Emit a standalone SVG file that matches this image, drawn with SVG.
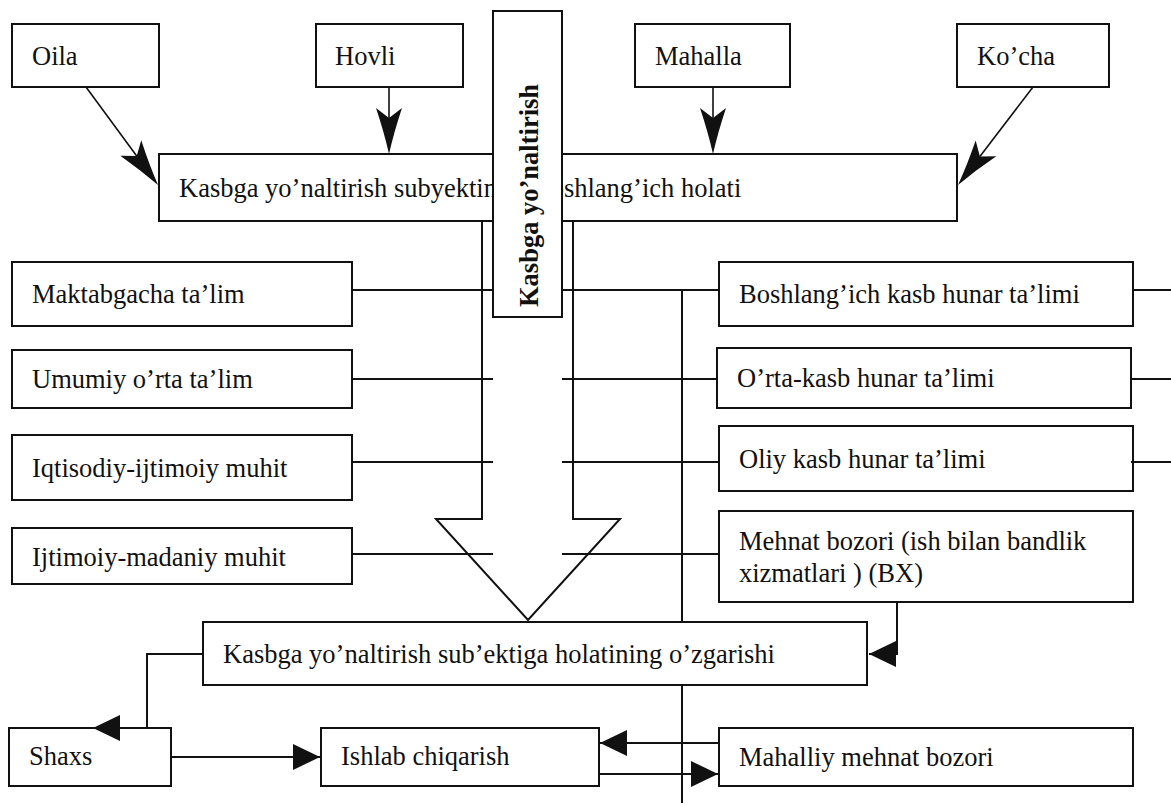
<svg xmlns="http://www.w3.org/2000/svg" width="1171" height="805" viewBox="0 0 1171 805">
  <style>
    .box { fill: #fff; stroke: #111; stroke-width: 2; }
    .lbl { font-family: "Liberation Serif", "Times New Roman", serif; font-size: 26.5px; fill: #111; }
    .vlbl { font-family: "Liberation Serif", "Times New Roman", serif; font-size: 26.5px; font-weight: bold; fill: #111; }
    .ln { fill: none; stroke: #111; stroke-width: 2; }
    .thin { fill: none; stroke: #111; stroke-width: 1.6; }
  </style>
  <defs>
    <!-- barbed head: notch sits on the line end, tip 36px further on -->
    <marker id="barb" viewBox="-50 -15 52 30" refX="-36" refY="0" markerWidth="52" markerHeight="30" markerUnits="userSpaceOnUse" orient="auto" overflow="visible">
      <path d="M0,0 Q-22,-5 -46,-13 L-36,0 L-46,13 Q-22,5 0,0Z" fill="#111"/>
    </marker>
    <!-- solid triangle head, tip on the line end -->
    <marker id="tri" viewBox="-28 -14 30 28" refX="0" refY="0" markerWidth="30" markerHeight="28" markerUnits="userSpaceOnUse" orient="auto" overflow="visible">
      <path d="M0,0 L-27,-13 L-27,13Z" fill="#111"/>
    </marker>
  </defs>

  <rect width="1171" height="805" fill="#fff"/>

  <!-- top sources -->
  <g id="oila"><rect class="box" x="12" y="24" width="147" height="63"/><text class="lbl" x="32" y="65">Oila</text></g>
  <g id="hovli"><rect class="box" x="316" y="24" width="147" height="63"/><text class="lbl" x="335" y="65">Hovli</text></g>
  <g id="mahalla"><rect class="box" x="635" y="24" width="155" height="63"/><text class="lbl" x="655" y="65">Mahalla</text></g>
  <g id="kocha"><rect class="box" x="957" y="24" width="152" height="63"/><text class="lbl" x="977" y="65">Ko’cha</text></g>

  <!-- initial state -->
  <g id="boshlangich-holat"><rect class="box" x="159" y="154" width="798" height="67"/><text class="lbl" x="179" y="197">Kasbga yo’naltirish subyektining boshlang’ich holati</text></g>

  <!-- vertical banner -->
  <g id="kasbga-banner"><rect class="box" x="493" y="11" width="69" height="306"/><text class="vlbl" transform="translate(538,307) rotate(-90)" x="0" y="0">Kasbga yo’naltirish</text></g>

  <!-- left column -->
  <g id="maktabgacha"><rect class="box" x="12" y="262" width="340" height="64"/><text class="lbl" x="32" y="303">Maktabgacha ta’lim</text></g>
  <g id="umumiy"><rect class="box" x="12" y="350" width="340" height="58"/><text class="lbl" x="32" y="388">Umumiy o’rta ta’lim</text></g>
  <g id="iqtisodiy"><rect class="box" x="12" y="435" width="340" height="65"/><text class="lbl" x="32" y="477">Iqtisodiy-ijtimoiy muhit</text></g>
  <g id="ijtimoiy"><rect class="box" x="12" y="528" width="340" height="56"/><text class="lbl" x="32" y="566">Ijtimoiy-madaniy muhit</text></g>

  <!-- right column -->
  <g id="boshlangich-kasb"><rect class="box" x="719" y="262" width="414" height="64"/><text class="lbl" x="739" y="303">Boshlang’ich kasb hunar ta’limi</text></g>
  <g id="orta-kasb"><rect class="box" x="717" y="348" width="414" height="60"/><text class="lbl" x="737" y="387">O’rta-kasb hunar ta’limi</text></g>
  <g id="oliy-kasb"><rect class="box" x="719" y="426" width="414" height="65"/><text class="lbl" x="739" y="468">Oliy kasb hunar ta’limi</text></g>
  <g id="mehnat-bozori"><rect class="box" x="719" y="511" width="414" height="91"/><text class="lbl" x="739" y="550">Mehnat bozori (ish bilan bandlik</text><text class="lbl" x="739" y="582">xizmatlari ) (BX)</text></g>

  <!-- changed state -->
  <g id="ozgarish"><rect class="box" x="203" y="622" width="664" height="63"/><text class="lbl" x="223" y="663">Kasbga yo’naltirish sub’ektiga holatining o’zgarishi</text></g>

  <!-- bottom row -->
  <g id="shaxs"><rect class="box" x="9" y="728" width="162" height="58"/><text class="lbl" x="29" y="765">Shaxs</text></g>
  <g id="ishlab"><rect class="box" x="321" y="728" width="278" height="58"/><text class="lbl" x="341" y="765">Ishlab chiqarish</text></g>
  <g id="mahalliy"><rect class="box" x="719" y="728" width="414" height="58"/><text class="lbl" x="739" y="766">Mahalliy mehnat bozori</text></g>

  <g id="connectors">
    <!-- sources into the initial state -->
    <path class="thin" d="M86,87 L136.7,156" marker-end="url(#barb)"/>
    <path class="thin" d="M389,87 V118" marker-end="url(#barb)"/>
    <path class="thin" d="M713,87 V118" marker-end="url(#barb)"/>
    <path class="thin" d="M1033,87 L979.9,156.4" marker-end="url(#barb)"/>

    <!-- broad downward arrow -->
    <path class="ln" d="M482,221 V519 H436 L528,620 L620,519 H573 V221"/>

    <!-- horizontal ties -->
    <path class="ln" d="M352,290 H493 M562,290 H719"/>
    <path class="ln" d="M352,379 H493 M562,379 H717"/>
    <path class="ln" d="M352,462 H493 M562,462 H719"/>
    <path class="ln" d="M352,554 H493 M562,554 H719"/>
    <path class="ln" d="M1133,290 H1171 M1131,379 H1171 M1131,462 H1171"/>

    <!-- vertical spine -->
    <path class="ln" d="M682,290 V622 M682,685 V803"/>

    <!-- labour market into the changed state -->
    <path class="ln" d="M897,602 V654 H869" marker-end="url(#tri)"/>

    <!-- changed state to person -->
    <path class="ln" d="M203,654 H147 V728 H93" marker-end="url(#tri)"/>

    <!-- bottom row flows -->
    <path class="ln" d="M171,757 H320" marker-end="url(#tri)"/>
    <path class="ln" d="M719,743 H600" marker-end="url(#tri)"/>
    <path class="ln" d="M599,774 H718" marker-end="url(#tri)"/>
  </g>
</svg>
